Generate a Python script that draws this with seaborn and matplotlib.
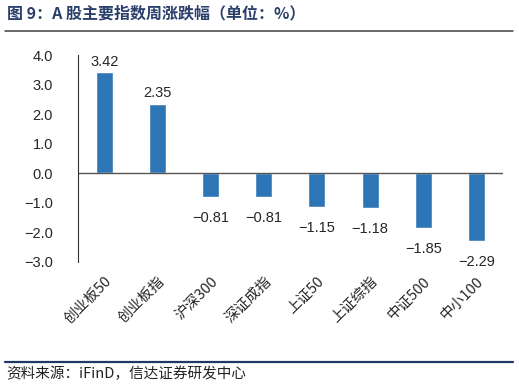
import numpy as np
import pandas as pd
import seaborn as sns
import matplotlib.pyplot as plt
from matplotlib.lines import Line2D

categories = ["创业板50", "创业板指", "沪深300", "深证成指", "上证50", "上证综指", "中证500", "中小100"]
changes = [3.42, 2.35, -0.81, -0.81, -1.15, -1.18, -1.85, -2.29]
yticks = [-3.0, -2.0, -1.0, 0.0, 1.0, 2.0, 3.0, 4.0]

sns.set_style("white")
plt.rcParams["font.family"] = ["Noto Sans CJK SC", "DejaVu Sans"]
plt.rcParams["axes.unicode_minus"] = True

df = pd.DataFrame({"指数": categories, "涨跌幅": changes})

fig = plt.figure(figsize=(5.19, 3.88), dpi=100)
ax = fig.add_axes([0.150, 0.325, 0.819, 0.533])

sns.barplot(data=df, x="指数", y="涨跌幅", color="#2E75B6", saturation=1,
            width=0.32, ax=ax)

ax.set_ylim(-3, 4)
ax.set_yticks(yticks)
ax.set_yticklabels([f"{v:.1f}".replace("-", "−") for v in yticks],
                   fontsize=10.5, family=["Liberation Sans", "DejaVu Sans"])
ax.axhline(0, color="#555555", lw=1)
ax.set_xlabel("")
ax.set_ylabel("")

for s in ["top", "right", "bottom"]:
    ax.spines[s].set_visible(False)
ax.spines["left"].set_color("#333333")
ax.spines["left"].set_linewidth(0.8)
ax.tick_params(axis="y", length=4, width=0.8, color="#333333", pad=14)
ax.tick_params(axis="x", length=0, pad=9)
plt.setp(ax.get_xticklabels(), rotation=45, ha="right", rotation_mode="anchor",
         fontsize=10.5)

for i, v in enumerate(changes):
    off = 2.5 if v > 0 else -10
    ax.annotate(f"{v:.2f}".replace("-", "−"), (i, v), xytext=(0, off),
                textcoords="offset points", ha="center",
                va="bottom" if v > 0 else "top", fontsize=10.5,
                family=["Liberation Sans", "DejaVu Sans"])

fig.text(0.013, 0.966, "图 9：A 股主要指数周涨跌幅（单位：%）", fontsize=11.5,
         fontweight="bold", color="#2B3F6B", va="center")
fig.add_artist(Line2D([0.010, 0.988], [0.921, 0.921], color="#404040", lw=1.1))
fig.add_artist(Line2D([0.010, 0.988], [0.066, 0.066], color="#1F3864", lw=1.6))
fig.text(0.013, 0.037, "资料来源：iFinD，信达证券研发中心", fontsize=10.5,
         style="italic", color="#222222", va="center")

fig.savefig("out.png", dpi=100)
